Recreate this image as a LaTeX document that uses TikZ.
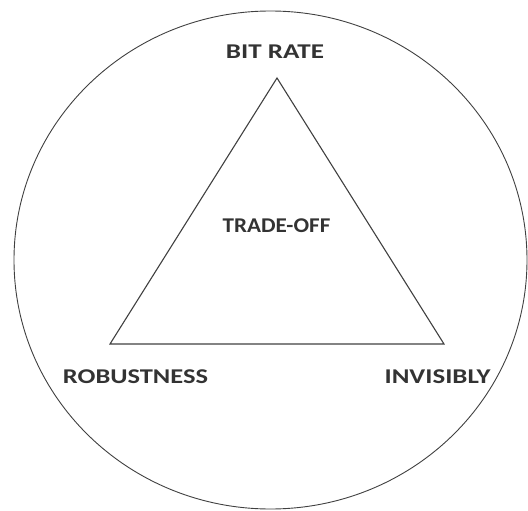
\documentclass[tikz,border=0pt]{standalone}
\usepackage{fontspec}
\setmainfont{Carlito}
\begin{document}
\begin{tikzpicture}[x=1pt,y=-1pt,
  lbl/.style={font=\fontsize{21}{24}\selectfont\bfseries, text=black!80, inner sep=0pt},
  edge/.style={draw=black!75, line width=1.1pt}]
\useasboundingbox (0,0) rectangle (528,511);
\draw[draw=black!75, line width=0.9pt] (270.5,260) ellipse [x radius=256.5, y radius=249];
\coordinate (top) at (277,78);
\coordinate (bl) at (110,344);
\coordinate (br) at (444,344);
\draw[edge, line join=miter] (top) -- (bl) -- (br) -- cycle;
\node[lbl, xscale=1.29] (bitrate) at (275,52) {BIT RATE};
\node[lbl, xscale=1.10] (tradeoff) at (276.5,225.5) {TRADE-OFF};
\node[lbl, xscale=1.26] (robust) at (135.5,376.5) {ROBUSTNESS};
\node[lbl, xscale=1.28] (invis) at (437.5,376.5) {INVISIBLY};
\end{tikzpicture}
\end{document}
